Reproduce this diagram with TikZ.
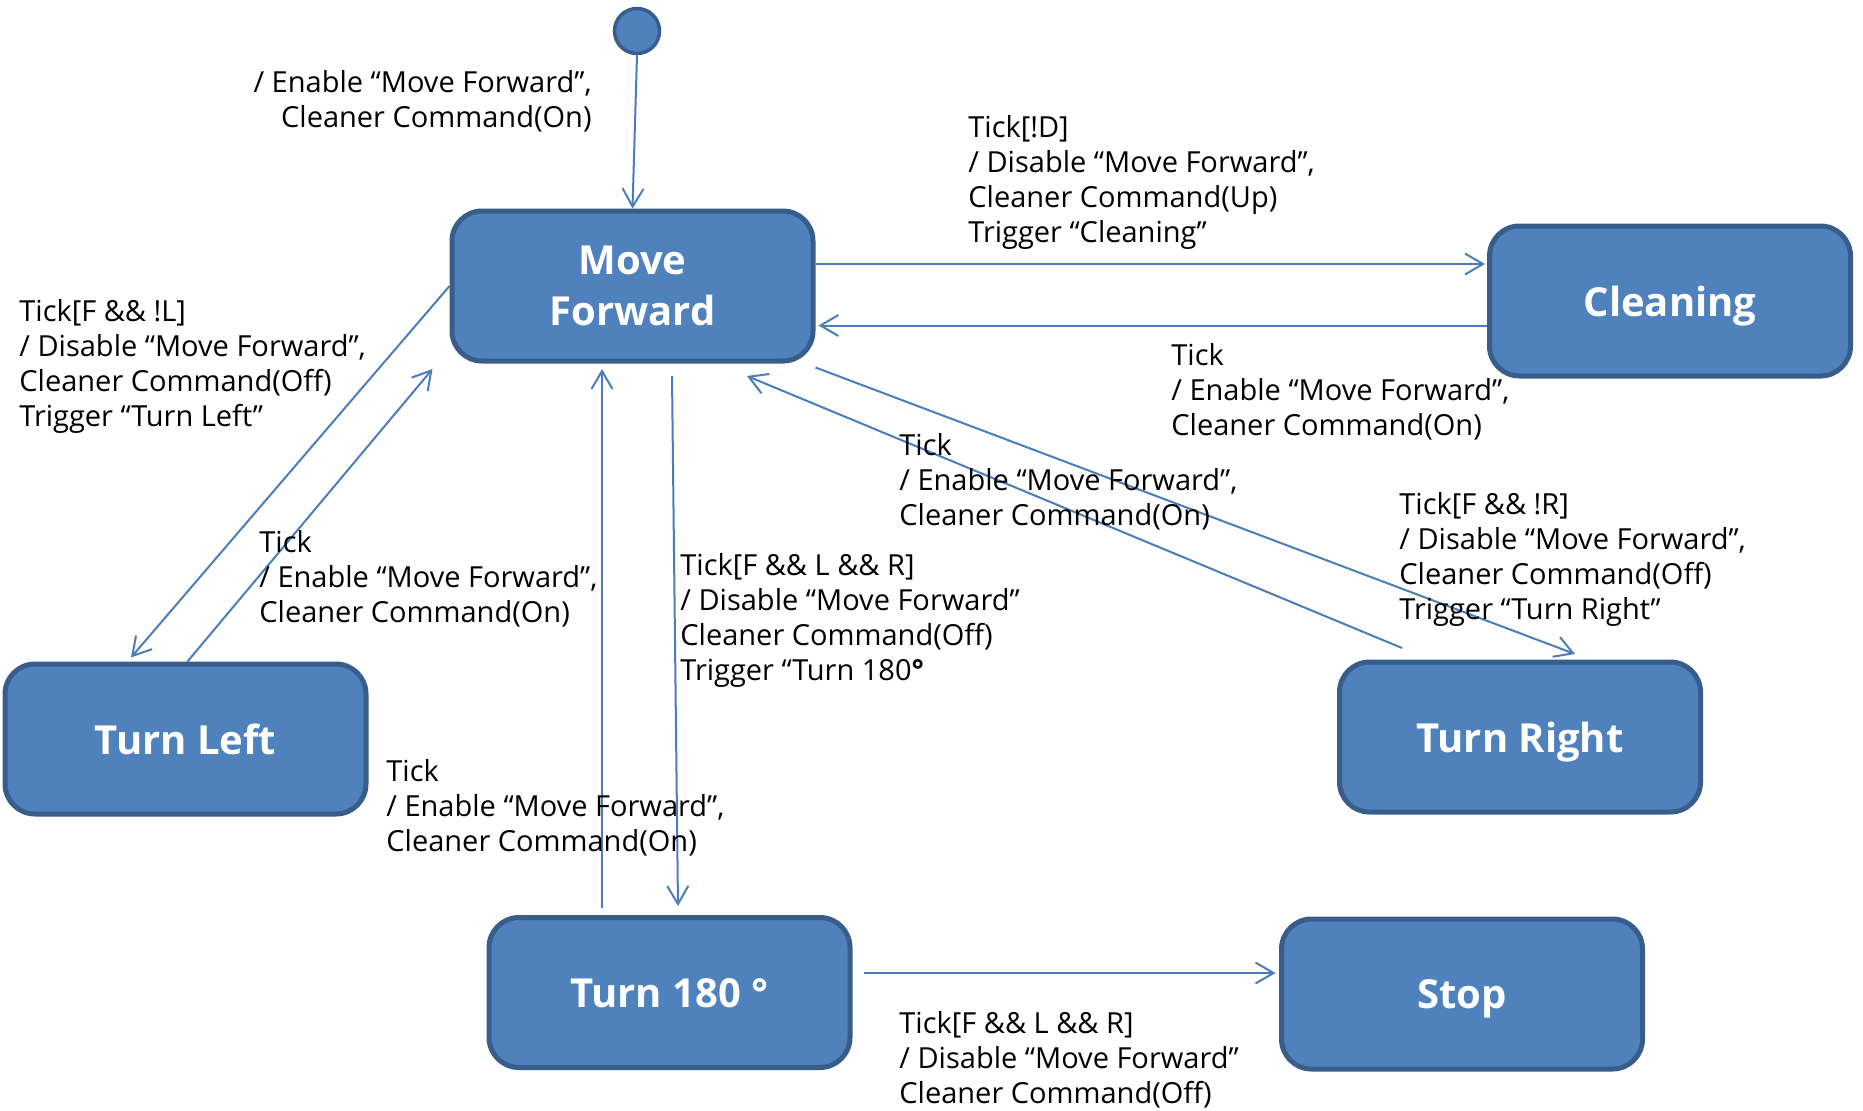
\documentclass[tikz,border=0pt]{standalone}
\usepackage{fontspec}
\setmainfont{Open Sans}
\usetikzlibrary{arrows.meta}
\definecolor{stFill}{HTML}{4F81BD}
\definecolor{stLine}{HTML}{385D8A}
\definecolor{trLine}{HTML}{4A7EBB}
\begin{document}
\begin{tikzpicture}[x=0.5pt,y=-0.5pt,
 state/.style={draw=stLine, fill=stFill, line width=2.5pt, rounded corners=15pt,
   minimum width=180.5pt, minimum height=75pt, text=white, text depth=0pt,
   font=\fontsize{20}{25.5}\selectfont\bfseries, align=center, inner sep=0pt},
 initstate/.style={circle, draw=stLine, fill=stFill, line width=1.75pt, minimum size=22.5pt, inner sep=0pt},
 tr/.style={draw=trLine, line width=1pt, -{Straight Barb[length=9pt,width=10.5pt]}},
 lab/.style={font=\fontsize{14.5}{17.5}\selectfont, align=left, inner sep=0pt, anchor=north west},
]
\useasboundingbox (0,0) rectangle (1863,1110);

\node[initstate] (init) at (637,31) {};
\node[state] (MF) at (632.5,286) {Move\\Forward};
\node[state] (Cl) at (1670,301) {Cleaning};
\node[state] (TL) at (185.5,739) {Turn Left};
\node[state] (TR) at (1520,737) {Turn Right};
\node[state] (T) at (669.5,992.5) {Turn 180 °};
\node[state] (S) at (1462,994) {Stop};

% connectors
\draw[tr] (init.south) -- (MF.north);
\draw[tr] ([yshift=11pt]MF.east) -- ([xshift=-1pt,yshift=18.5pt]Cl.west);
\draw[tr] ([yshift=-12.25pt]Cl.west) -- ([xshift=1.5pt,yshift=-19.75pt]MF.east);
\draw[tr] (MF.west) -- ([xshift=-27.25pt,yshift=2pt]TL.north);
\draw[tr] ([xshift=1pt]TL.north) -- ([xshift=-8.5pt,yshift=-2.75pt]MF.south west);
\draw[tr] ([xshift=-33.75pt,yshift=3.5pt]T.north) -- ([xshift=-15.25pt,yshift=-2.75pt]MF.south);
\draw[tr] ([xshift=19.75pt,yshift=-6.25pt]MF.south) -- ([xshift=4.25pt,yshift=4.5pt]T.north);
\draw[tr] ([yshift=-2pt]MF.south east) -- ([xshift=27.5pt,yshift=2.75pt]TR.north);
\draw[tr] ([xshift=-59pt,yshift=5.75pt]TR.north) -- ([xshift=57.25pt,yshift=-6.25pt]MF.south);
\draw[tr] ([xshift=5.5pt,yshift=9.75pt]T.east) -- ([xshift=-1.75pt,yshift=10.5pt]S.west);

% labels
\node[lab, anchor=north east, align=right] (l1) at (592,70) {/ Enable “Move Forward”,\\Cleaner Command(On)};
\node[lab] (l2) at (968,115) {Tick[!D]\\/ Disable “Move Forward”,\\Cleaner Command(Up)\\Trigger “Cleaning”};
\node[lab] (l3) at (1171,343) {Tick\\/ Enable “Move Forward”,\\Cleaner Command(On)};
\node[lab] (l4) at (19,299) {Tick[F \&\& !L]\\/ Disable “Move Forward”,\\Cleaner Command(Off)\\Trigger “Turn Left”};
\node[lab] (l5) at (259,530) {Tick\\/ Enable “Move Forward”,\\Cleaner Command(On)};
\node[lab] (l6) at (386,759) {Tick\\/ Enable “Move Forward”,\\Cleaner Command(On)};
\node[lab] (l7) at (680,553) {Tick[F \&\& L \&\& R]\\/ Disable “Move Forward”\\Cleaner Command(Off)\\Trigger “Turn 180\textbf{°}};
\node[lab] (l8) at (899,433.5) {Tick\\/ Enable “Move Forward”,\\Cleaner Command(On)};
\node[lab] (l9) at (1399,492) {Tick[F \&\& !R]\\/ Disable “Move Forward”,\\Cleaner Command(Off)\\Trigger “Turn Right”};
\node[lab] (l10) at (899,1011) {Tick[F \&\& L \&\& R]\\/ Disable “Move Forward”\\Cleaner Command(Off)};
\end{tikzpicture}
\end{document}
